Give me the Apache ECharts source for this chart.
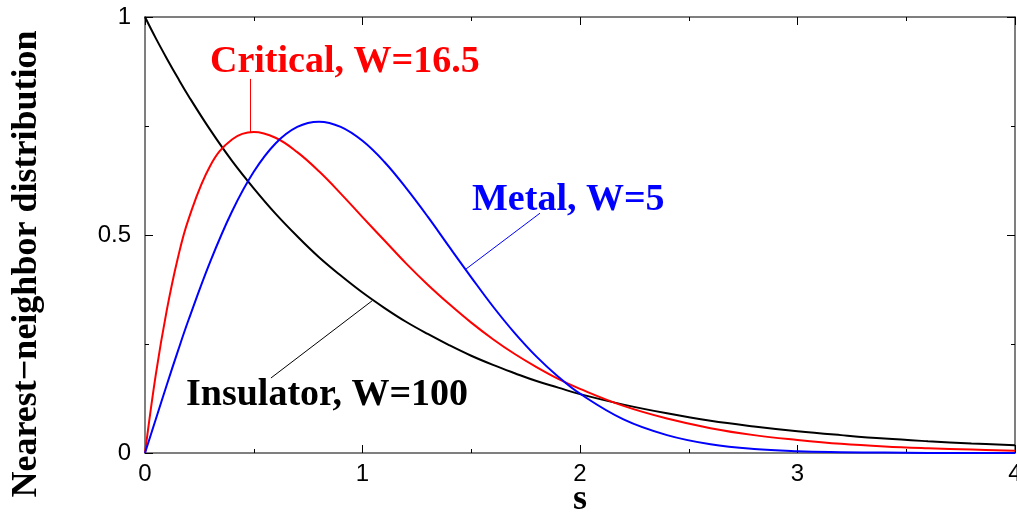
<!DOCTYPE html>
<html>
<head>
<meta charset="utf-8">
<script src="https://cdn.jsdelivr.net/npm/echarts@6/dist/echarts.min.js"></script>
<style>
  html, body { margin: 0; padding: 0; background: #fff; }
  #chart { width: 1017px; height: 516px; }
</style>
</head>
<body>
<div id="chart"></div>
<script>
// spacing s
const S = [0, 0.05, 0.1, 0.15, 0.2, 0.3, 0.4, 0.5, 0.6, 0.7, 0.8, 0.9, 1.0, 1.1, 1.2, 1.3, 1.4,
  1.5, 1.6, 1.7, 1.8, 1.9, 2.0, 2.2, 2.4, 2.6, 2.8, 3.0, 3.2, 3.4, 3.6, 3.8, 4.0];

const insulator = [1.0, 0.951, 0.905, 0.861, 0.819, 0.741, 0.670, 0.607, 0.549, 0.497, 0.449, 0.407,
  0.368, 0.333, 0.301, 0.273, 0.247, 0.223, 0.202, 0.183, 0.165, 0.150, 0.135, 0.111, 0.091, 0.074,
  0.061, 0.050, 0.041, 0.033, 0.027, 0.022, 0.018];

const critical = [0, 0.181, 0.327, 0.445, 0.536, 0.659, 0.719, 0.736, 0.723, 0.690, 0.646, 0.595,
  0.541, 0.488, 0.435, 0.386, 0.341, 0.299, 0.261, 0.227, 0.197, 0.170, 0.147, 0.108, 0.079, 0.057,
  0.041, 0.030, 0.021, 0.015, 0.011, 0.008, 0.005];

const metal = [0, 0.078, 0.156, 0.232, 0.305, 0.439, 0.554, 0.645, 0.710, 0.748, 0.760, 0.748,
  0.716, 0.668, 0.608, 0.542, 0.472, 0.403, 0.336, 0.275, 0.221, 0.175, 0.136, 0.077, 0.041, 0.020,
  0.009, 0.004, 0.002, 0.001, 0.0002, 0.0001, 0];

const xTicks = ['0', '1', '2', '3', '4'];
const yTicks = { 0: '0', 0.5: '0.5', 1: '1' };

// leader lines, in data coordinates: [from, to]
const leaders = {
  critical: [[0.483, 0.858], [0.483, 0.736]],
  metal: [[1.816, 0.550], [1.476, 0.422]],
  insulator: [[0.579, 0.172], [1.044, 0.349]],
};

const SERIF = '"Liberation Serif", "Times New Roman", serif';
const SANS = '"Liberation Sans", Arial, sans-serif';

const pairs = (ys) => S.map((s, i) => [s, ys[i]]);

function frameAxis(extra) {
  return Object.assign({
    type: 'value',
    axisLine: { show: true, onZero: false, lineStyle: { color: '#555', width: 1.5 } },
    axisTick: { show: true, inside: true, length: 8, lineStyle: { color: '#000', width: 1 } },
    minorTick: { show: true, splitNumber: 2, length: 4, lineStyle: { color: '#000', width: 1 } },
    splitLine: { show: false },
    minorSplitLine: { show: false },
  }, extra);
}

function curve(name, color, ys, leader) {
  return {
    name,
    type: 'line',
    data: pairs(ys),
    smooth: 0.4,
    showSymbol: false,
    symbol: 'none',
    lineStyle: { color, width: 2 },
    animation: false,
    markLine: {
      silent: true,
      symbol: 'none',
      label: { show: false },
      lineStyle: { color, width: 1, type: 'solid' },
      data: [[{ coord: leader[0] }, { coord: leader[1] }]],
    },
  };
}

const chart = echarts.init(document.getElementById('chart'), null, { renderer: 'canvas' });

chart.setOption({
  animation: false,
  backgroundColor: '#fff',
  grid: { left: 145, right: 2, top: 17, bottom: 63, containLabel: false, outerBoundsMode: 'none' },
  xAxis: [
    frameAxis({
      position: 'bottom', min: 0, max: 4, interval: 1,
      axisLabel: {
        margin: 9, color: '#000', fontFamily: SANS, fontSize: 24,
        formatter: (v) => xTicks[Math.round(v)],
      },
    }),
    frameAxis({ position: 'top', min: 0, max: 4, interval: 1, axisLabel: { show: false } }),
  ],
  yAxis: [
    frameAxis({
      position: 'left', min: 0, max: 1, interval: 0.5,
      axisLabel: {
        margin: 14, color: '#000', fontFamily: SANS, fontSize: 24,
        formatter: (v) => yTicks[v],
      },
    }),
    frameAxis({ position: 'right', min: 0, max: 1, interval: 0.5, axisLabel: { show: false } }),
  ],
  series: [
    curve('Insulator, W=100', '#000', insulator, leaders.insulator),
    curve('Critical, W=16.5', '#ff0000', critical, leaders.critical),
    curve('Metal, W=5', '#0000ff', metal, leaders.metal),
  ],
  graphic: [
    { type: 'text', x: 27, y: 264, rotation: Math.PI / 2,
      style: { text: 'Nearest\u2212neighbor distribution', fill: '#000', align: 'center',
        verticalAlign: 'middle', font: 'bold 36px ' + SERIF } },
    { type: 'text', x: 580, y: 500,
      style: { text: 's', fill: '#000', align: 'center', verticalAlign: 'middle',
        font: 'bold 36px ' + SERIF } },
    { type: 'text', left: 210, top: 43, style: { text: 'Critical, W=16.5', fill: '#ff0000',
      font: 'bold 38px ' + SERIF } },
    { type: 'text', left: 472, top: 181, style: { text: 'Metal, W=5', fill: '#0000ff',
      font: 'bold 38px ' + SERIF } },
    { type: 'text', left: 186, top: 376, style: { text: 'Insulator, W=100', fill: '#000',
      font: 'bold 38px ' + SERIF } },
  ],
});
</script>
</body>
</html>
